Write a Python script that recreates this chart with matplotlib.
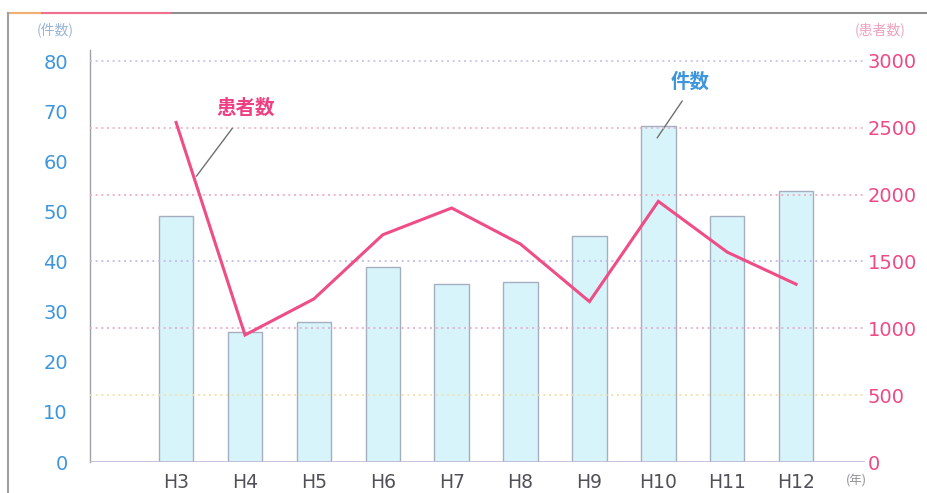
import matplotlib
matplotlib.use("Agg")
import matplotlib.pyplot as plt
from matplotlib.lines import Line2D
import numpy as np

plt.rcParams['font.family'] = ['DejaVu Sans', 'Noto Sans CJK JP']

years = ["H3", "H4", "H5", "H6", "H7", "H8", "H9", "H10", "H11", "H12"]
cases = [49, 26, 28, 39, 35.5, 36, 45, 67, 49, 54]            # 件数 (left axis)
patients = [2540, 950, 1220, 1700, 1900, 1630, 1200, 1950, 1570, 1330]  # 患者数 (right axis)
left_ticks = [0, 10, 20, 30, 40, 50, 60, 70, 80]
right_ticks = [0, 500, 1000, 1500, 2000, 2500, 3000]

W, H = 927, 493
fig = plt.figure(figsize=(W / 100, H / 100), dpi=100)
fig.patch.set_facecolor("white")

def fx(px):
    return px / W

def fy(py):
    return 1 - py / H

ax = fig.add_axes([fx(90), fy(462), fx(865) - fx(90), fy(50) - fy(462)])
ax2 = ax.twinx()

x = np.arange(len(years))
ax.set_xlim(-1.25, 10.0)
ax.set_ylim(0, 82.2)
ax2.set_ylim(0, 3082)

# grid lines (dotted, multi-colour like the scan)
grid_colors = ["#c0b8d8", "#eee0a8", "#e8a8c8", "#c0b8e8", "#f0a8c0", "#e8b0c8", "#c8c0e8"]
for v, c in zip(right_ticks, grid_colors):
    if v == 0:
        continue
    ax2.axhline(v, color=c, lw=1.2, ls=(0, (1.2, 2.2)), zorder=0)
ax2.axhline(0, color="#c0b8d8", lw=1.2, zorder=1)

ax.bar(x, cases, width=0.5, color="#d8f4fb", edgecolor="#a4aebe", linewidth=1.0, zorder=2)
ax2.plot(x, patients, color="#ef4d86", lw=2.2, zorder=4, solid_joinstyle="miter")

ax.set_zorder(ax2.get_zorder() - 1)
ax2.patch.set_visible(False)

ax.set_yticks(left_ticks)
ax.set_yticklabels([str(t) for t in left_ticks], color="#3d96dc", fontsize=14)
ax2.set_yticks(right_ticks)
ax2.set_yticklabels([str(t) for t in right_ticks], color="#ee4a86", fontsize=14)
ax.set_xticks(x)
ax.set_xticklabels(years, color="#505058", fontsize=13.5)
ax.tick_params(axis="y", length=0, pad=16)
ax2.tick_params(axis="y", length=0, pad=2)
ax.tick_params(axis="x", length=0, pad=8)

for s in ["top", "right", "bottom"]:
    ax.spines[s].set_visible(False)
    ax2.spines[s].set_visible(False)
ax2.spines["left"].set_visible(False)
ax.spines["left"].set_color("#a0a0a8")
ax.spines["left"].set_linewidth(1.0)

# annotations
ax2.annotate("", xy=(0.27, 2121), xytext=(0.84, 2513),
             arrowprops=dict(arrowstyle="-", color="#707070", lw=1.0), zorder=5)
ax2.text(1.01, 2648, "患者数", color="#ee3f82", fontsize=14, fontweight="bold",
         ha="center", va="center", family=["Noto Sans CJK JP"], zorder=5)
ax.annotate("", xy=(6.96, 64.2), xytext=(7.37, 72.5),
            arrowprops=dict(arrowstyle="-", color="#707070", lw=1.0), zorder=5)
ax.text(7.46, 75.8, "件数", color="#3d96dc", fontsize=14, fontweight="bold",
        ha="center", va="center", family=["Noto Sans CJK JP"], zorder=5)

# axis unit labels
fig.text(fx(55), fy(30), "(件数)", color="#9ab4d8", fontsize=10, ha="center", va="center",
         family=["Noto Sans CJK JP"])
fig.text(fx(880), fy(30), "(患者数)", color="#f0a0bc", fontsize=10, ha="center", va="center",
         family=["Noto Sans CJK JP"])
fig.text(fx(856), fy(481), "(年)", color="#909098", fontsize=9, ha="center", va="center",
         family=["Noto Sans CJK JP"])

# outer frame of the scanned figure
fig.add_artist(Line2D([fx(8), fx(927)], [fy(13), fy(13)], color="#909090", lw=1.5))
fig.add_artist(Line2D([fx(8), fx(42)], [fy(13), fy(13)], color="#f0b070", lw=1.5))
fig.add_artist(Line2D([fx(42), fx(170)], [fy(13), fy(13)], color="#f07090", lw=1.5))
fig.add_artist(Line2D([fx(8), fx(8)], [fy(13), fy(493)], color="#a0a0a0", lw=1.5))

fig.savefig("out.png", dpi=100, facecolor="white")
